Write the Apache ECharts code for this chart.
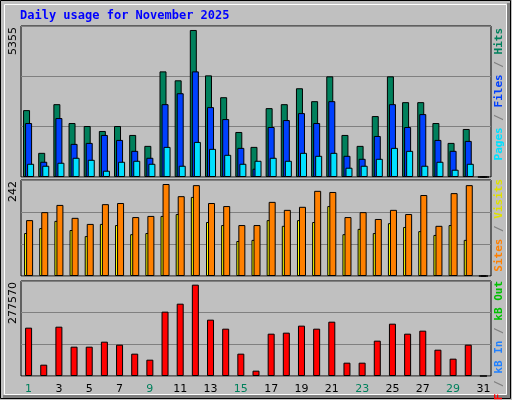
<!DOCTYPE html>
<html><head><meta charset="utf-8">
<script src="https://cdn.jsdelivr.net/npm/echarts@6/dist/echarts.min.js"></script>
<style>html,body{margin:0;padding:0;background:#c0c0c0}#c{width:512px;height:400px}</style>
</head><body><div id="c"></div>
<script>
const days = Array.from({length:31},(_,i)=>String(i+1));
const weekend = ['1','2','8','9','15','16','22','23','29','30'];
const hits  = [2436,880,2653,1966,1857,1676,1857,1532,1134,3847,3522,5355,3702,2906,1640,1097,2508,2653,3232,2762,3666,1532,1134,2219,3666,2726,2726,1966,1242,1749,0];
const files = [1966,555,2147,1206,1242,1532,1351,953,700,2653,3051,3847,2545,2110,1061,302,1821,2074,2328,1966,2762,772,663,1495,2653,1821,2291,1351,953,1315,0];
const pages = [482,410,519,700,627,229,555,591,482,1097,410,1278,1025,808,482,591,700,591,880,772,880,338,410,663,1061,953,410,555,265,482,0];
const visits= [113,126,145,121,105,137,134,110,113,158,163,208,142,134,92,95,147,132,147,142,184,110,124,113,139,129,118,108,134,95,0];
const sites = [147,168,187,153,137,189,192,155,158,242,210,239,192,184,134,134,195,174,182,224,221,155,168,150,174,163,213,132,218,239,0];
const kbytes= [146900,34400,149900,89100,89100,104300,95200,67900,49600,195500,219800,277570,171200,143800,67900,16200,128600,131700,153000,143800,165100,40500,40500,107400,159000,128600,137800,80000,52700,95200,0];
const maxHits=5355, maxSites=242, maxKB=277570;

const ch = echarts.init(document.getElementById('c'));
const grids=[{left:21,right:21,top:26,height:151},{left:21,right:21,top:180,height:96},{left:21,right:21,top:281,height:95}];
const tops=[maxHits*152/148, maxSites*288/276, maxKB*285/274];
const bs={borderColor:'#000',borderWidth:1};
function xa(i){return {gridIndex:i,type:'category',data:days,boundaryGap:true,
  axisLine:{show:false},axisTick:{show:false},
  axisLabel:{show:i===2,margin:8,fontSize:11,fontFamily:'DejaVu Sans',
    color:(v)=>weekend.includes(v)?'#00805c':'#000'}};}
function ya(i){return {gridIndex:i,type:'value',min:0,max:tops[i],interval:tops[i]/3,
  axisLabel:{show:false},axisLine:{show:false},axisTick:{show:false},
  splitLine:{show:true,lineStyle:{color:'#808080',width:1}}};}
function bar(name,data,color,g){return {name,type:'bar',data,xAxisIndex:g,yAxisIndex:g,barWidth:7,barGap:'-71%',
  itemStyle:Object.assign({color},bs),silent:true,animation:false};}
function vt(x,y,rich,parts){return {type:'text',x,y,rotation:Math.PI/2,
  style:{text:parts,rich,font:'11px DejaVu Sans Mono',align:'right',verticalAlign:'middle'}};}
const rich={h:{fill:'#00805c',font:'bold 11px DejaVu Sans Mono'},f:{fill:'#0040ff',font:'bold 11px DejaVu Sans Mono'},
  p:{fill:'#00e0ff',font:'bold 11px DejaVu Sans Mono'},s:{fill:'#808080',font:'bold 11px DejaVu Sans Mono'},
  v:{fill:'#e0e000',font:'bold 11px DejaVu Sans Mono'},o:{fill:'#ff8000',font:'bold 11px DejaVu Sans Mono'},
  r:{fill:'#ff0000',font:'bold 11px DejaVu Sans Mono'},b:{fill:'#2080ff',font:'bold 11px DejaVu Sans Mono'},
  g:{fill:'#00c000',font:'bold 11px DejaVu Sans Mono'}};
ch.setOption({
  animation:false,backgroundColor:'#c0c0c0',
  grid:grids.map(g=>Object.assign({show:true,backgroundColor:'#c0c0c0',borderColor:'#000',borderWidth:1},g)),
  xAxis:[xa(0),xa(1),xa(2)],yAxis:[ya(0),ya(1),ya(2)],
  series:[bar('Hits',hits,'#00805c',0),bar('Files',files,'#0040ff',0),bar('Pages',pages,'#00e0ff',0),
    bar('Visits',visits,'#ffff00',1),bar('Sites',sites,'#ff8000',1),
    bar('kB F',kbytes,'#ff0000',2)],
  graphic:[
    {type:'rect',shape:{x:0.5,y:0.5,width:510,height:398},style:{fill:null,stroke:'#000',lineWidth:1},silent:true},
    {type:'rect',shape:{x:4.5,y:4.5,width:502,height:390},style:{fill:null,stroke:'#fff',lineWidth:1},silent:true},
    {type:'rect',shape:{x:507,y:3,width:3,height:395},style:{fill:'#808080'},silent:true},
    {type:'rect',shape:{x:3,y:395,width:507,height:3},style:{fill:'#808080'},silent:true},
    {type:'text',x:20,y:16,style:{text:'Daily usage for November 2025',fill:'#0000ff',font:'bold 12px DejaVu Sans Mono',verticalAlign:'middle'}},
    {type:'text',x:13,y:27,rotation:Math.PI/2,style:{text:String(maxHits),fill:'#000',font:'11px DejaVu Sans',align:'right',verticalAlign:'middle'}},
    {type:'text',x:13,y:181,rotation:Math.PI/2,style:{text:String(maxSites),fill:'#000',font:'11px DejaVu Sans',align:'right',verticalAlign:'middle'}},
    {type:'text',x:13,y:282,rotation:Math.PI/2,style:{text:String(maxKB),fill:'#000',font:'11px DejaVu Sans',align:'right',verticalAlign:'middle'}},
    vt(499,28,rich,'{p|Pages}{s| / }{f|Files}{s| / }{h|Hits}'),
    vt(499,179,rich,'{o|Sites}{s| / }{v|Visits}'),
    vt(499,281,rich,'{r|kB F}{s| / }{b|kB In}{s| / }{g|kB Out}')
  ]
});
</script></body></html>
